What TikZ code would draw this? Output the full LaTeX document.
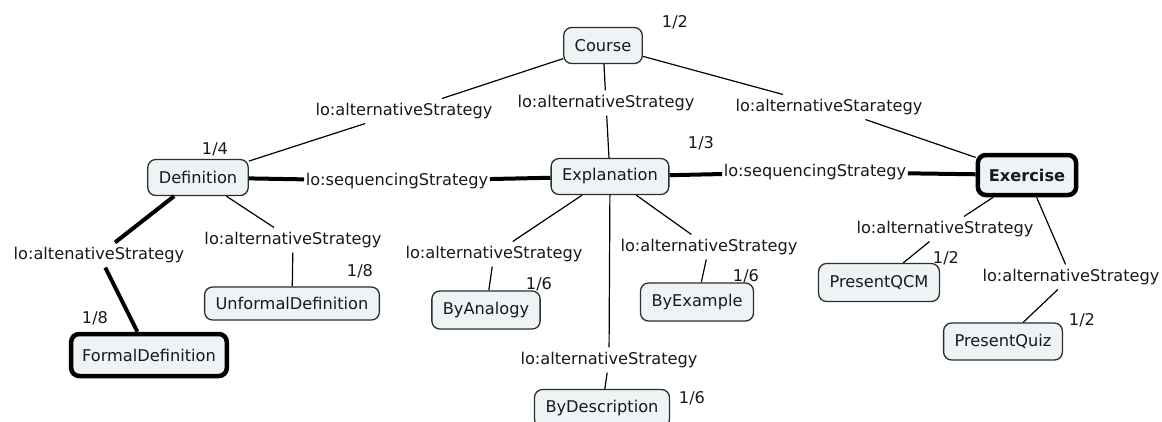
\documentclass[tikz,border=0pt]{standalone}
\usepackage{fontspec}
\setmainfont{DejaVu Sans}
\definecolor{boxfill}{RGB}{238,243,246}
\definecolor{boxline}{RGB}{45,45,45}
\definecolor{inkcol}{RGB}{25,25,25}
\begin{document}
\begin{tikzpicture}[x=1pt,y=-1pt,
  txt/.style={text=inkcol, font=\fontsize{16.2}{19}\selectfont},
  concept/.style={txt, draw=boxline, fill=boxfill, rounded corners=8pt,
    line width=1.3pt, inner xsep=11pt, inner ysep=0pt, minimum height=36pt},
  keyconcept/.style={concept, draw=black, line width=4.5pt, minimum height=40pt},
  rel/.style={txt, inner xsep=1.5pt, inner ysep=4.5pt},
  num/.style={txt},
  link/.style={draw=black, line width=1.2pt},
  seqlink/.style={draw=black, line width=4pt}]
\useasboundingbox (0,0) rectangle (1162,421);

% concepts
\node[concept] (course) at (603,45.5) {Course};
\node[concept] (def) at (198,177.5) {Definition};
\node[concept] (expl) at (610,176.5) {Explanation};
\node[keyconcept, font=\fontsize{16.2}{19}\selectfont\bfseries] (ex) at (1027,175) {Exercise};
\node[keyconcept, minimum height=42pt] (formal) at (149,355) {FormalDefinition};
\node[concept, minimum height=33pt] (unformal) at (292,303.5) {UnformalDefinition};
\node[concept, minimum height=38pt] (analogy) at (486,310) {ByAnalogy};
\node[concept, minimum height=38pt] (example) at (697,302) {ByExample};
\node[concept, minimum height=38pt] (descr) at (602,408.5) {ByDescription};
\node[concept, minimum height=38pt] (qcm) at (879,282.5) {PresentQCM};
\node[concept, minimum height=37pt] (quiz) at (1003,341.5) {PresentQuiz};

% relation labels
\node[rel] (r1) at (404,111) {lo:alternativeStrategy};
\node[rel] (r2) at (606,103) {lo:alternativeStrategy};
\node[rel] (r3) at (829,107) {lo:alternativeStarategy};
\node[rel] (s1) at (397,181) {lo:sequencingStrategy};
\node[rel] (s2) at (815,172) {lo:sequencingStrategy};
\node[rel] (r4) at (99,255) {lo:altenativeStrategy};
\node[rel] (r5) at (293,240) {lo:alternativeStrategy};
\node[rel] (r6) at (494,254) {lo:alternativeStrategy};
\node[rel] (r7) at (709,247) {lo:alternativeStrategy};
\node[rel] (r8) at (609,360) {lo:alternativeStrategy};
\node[rel] (r9) at (945,229) {lo:alternativeStrategy};
\node[rel] (r10) at (1071,277) {lo:alternativeStrategy};

% weights
\node[num] (w1) at (675,22) {1/2};
\node[num] (w2) at (215,149) {1/4};
\node[num] (w3) at (701,143) {1/3};
\node[num] (w4) at (95,318) {1/8};
\node[num] (w5) at (360,271) {1/8};
\node[num] (w6) at (539,284) {1/6};
\node[num] (w7) at (746,276) {1/6};
\node[num] (w8) at (692,398) {1/6};
\node[num] (w9) at (946,258) {1/2};
\node[num] (w10) at (1082,320) {1/2};

% alternative strategy links
\draw[link] (course) -- (r1);  \draw[link] (r1) -- (def);
\draw[link] (course) -- (r2);  \draw[link] (r2) -- (expl);
\draw[link] (course) -- (r3);  \draw[link] (r3) -- (ex);
\draw[link] (def) -- (r5);     \draw[link] (r5) -- (unformal);
\draw[link] (expl) -- (r6);    \draw[link] (r6) -- (analogy);
\draw[link] (expl) -- (r7);    \draw[link] (r7) -- (example);
\draw[link] (expl) -- (r8);    \draw[link] (r8) -- (descr);
\draw[link] (ex) -- (r9);      \draw[link] (r9) -- (qcm);
\draw[link] (ex) -- (r10);     \draw[link] (r10) -- (quiz);

% sequencing and highlighted links
\draw[seqlink] (def) -- (s1);  \draw[seqlink] (s1) -- (expl);
\draw[seqlink] (expl) -- (s2); \draw[seqlink] (s2) -- (ex);
\draw[seqlink] (def) -- (r4);  \draw[seqlink] (r4) -- (formal);
\end{tikzpicture}
\end{document}
